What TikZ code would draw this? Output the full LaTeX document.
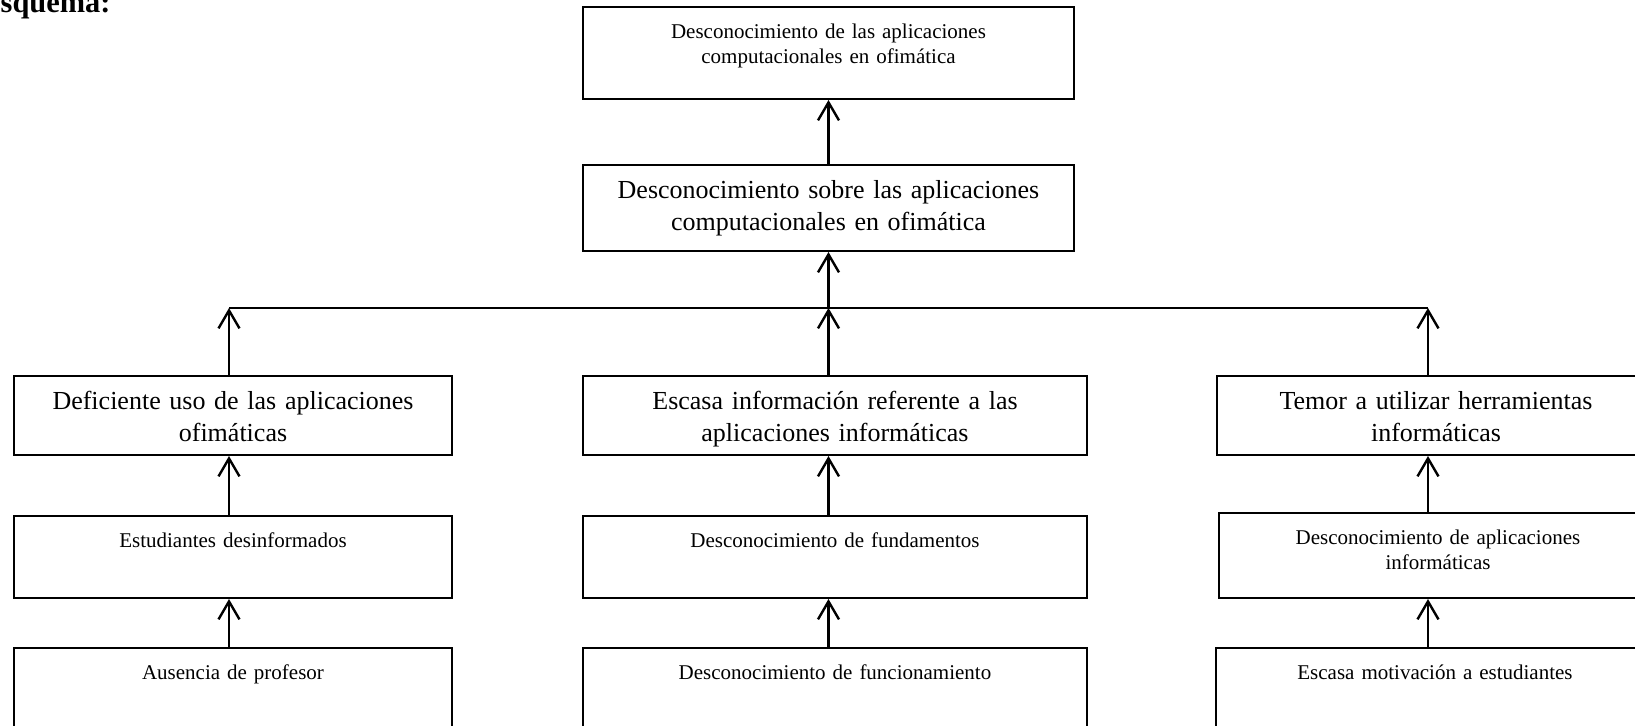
\documentclass[tikz,border=0pt]{standalone}
\usepackage{fontspec}
\setmainfont{Liberation Serif}
\usetikzlibrary{arrows.meta}
\newcommand{\bigtxt}{\fontsize{13pt}{16pt}\selectfont}
\newcommand{\smalltxt}{\fontsize{10.5pt}{12.5pt}\selectfont}

\begin{document}
\begin{tikzpicture}[x=0.5pt, y=-0.5pt,
		box/.style={draw, line width=1pt, align=center, inner sep=0pt, anchor=north},
		mainbox/.style={box, font=\bigtxt, text height=16.5pt, text depth=23pt},
		subbox/.style={box, font=\smalltxt, text height=15.5pt, text depth=25.5pt},
		arr/.style={-{Straight Barb[length=9pt, width=10.5pt]}, line width=1.2pt}]
		\useasboundingbox (0,0) rectangle (1635,725);
		\clip (0,0) rectangle (1635,725);
		\node[anchor=base west, inner sep=0pt, font=\fontsize{15.2pt}{18pt}\selectfont\bfseries]
			(titulo) at (-20,12) {Esquema:};
		% efecto
		\node[subbox, text width=245.5pt, text depth=30.5pt] (top) at (828.5,6)
			{Desconocimiento de las aplicaciones\\computacionales en ofimática};
		\node[mainbox, text width=245.5pt, text depth=26.5pt] (main) at (828.5,164)
			{Desconocimiento sobre las aplicaciones\\computacionales en ofimática};
		% causas
		\node[mainbox, text width=219pt] (defi) at (233,375)
			{Deficiente uso de las aplicaciones\\ofimáticas};
		\node[mainbox, text width=252pt] (escasa) at (835,375)
			{Escasa información referente a las\\aplicaciones informáticas};
		\node[mainbox, text width=219pt] (temor) at (1436,375)
			{Temor a utilizar herramientas\\informáticas};
		% subcausas
		\node[subbox, text width=219pt] (estud) at (233,515) {Estudiantes desinformados};
		\node[subbox, text width=252pt] (fund) at (835,515) {Desconocimiento de fundamentos};
		\node[subbox, text width=219pt, text depth=27pt] (desap) at (1438,512)
			{Desconocimiento de aplicaciones\\informáticas};
		\node[subbox, text width=219pt] (ausen) at (233,647) {Ausencia de profesor};
		\node[subbox, text width=252pt] (func) at (835,647) {Desconocimiento de funcionamiento};
		\node[subbox, text width=219pt] (motiv) at (1435,647) {Escasa motivación a estudiantes};
		% barra
		\coordinate (colL) at (229,308);
		\coordinate (colM) at (828.5,308);
		\coordinate (colR) at (1428,308);
		\draw[line width=1.2pt] (colL) -- (colR);
		\draw[arr] (main.north) -- (top.south);
		\draw[arr] (colM) -- (main.south);
		\draw[arr] (defi.north -| colL) -- (colL);
		\draw[arr] (escasa.north -| colM) -- (colM);
		\draw[arr] (temor.north -| colR) -- (colR);
		\draw[arr] (estud.north -| colL) -- (defi.south -| colL);
		\draw[arr] (fund.north -| colM) -- (escasa.south -| colM);
		\draw[arr] (desap.north -| colR) -- (temor.south -| colR);
		\draw[arr] (ausen.north -| colL) -- (estud.south -| colL);
		\draw[arr] (func.north -| colM) -- (fund.south -| colM);
		\draw[arr] (motiv.north -| colR) -- (desap.south -| colR);
	\end{tikzpicture}
\end{document}
